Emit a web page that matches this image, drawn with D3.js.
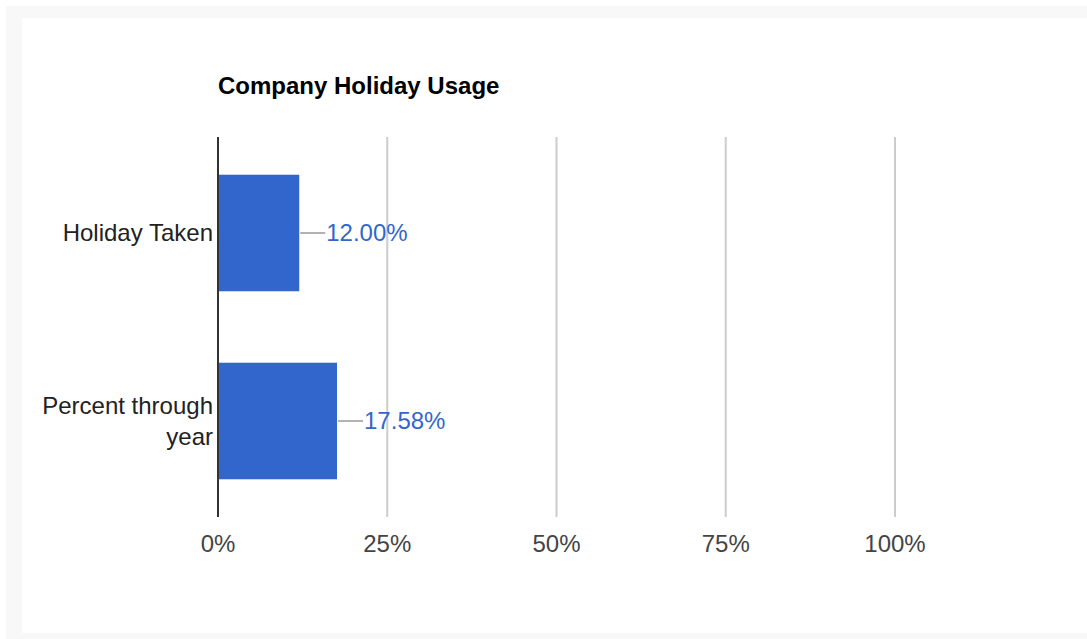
<!DOCTYPE html>
<html>
<head>
<meta charset="utf-8">
<script src="https://cdn.jsdelivr.net/npm/d3@7"></script>
<style>
  html, body { margin: 0; padding: 0; background: #ffffff; }
  svg { display: block; font-family: "Liberation Sans", Arial, sans-serif; }
</style>
</head>
<body>
<svg id="chart" width="1087" height="639"></svg>
<script>
// Chart data
const title = "Company Holiday Usage";
const categories = ["Holiday Taken", "Percent through year"];
const categoryLines = [["Holiday Taken"], ["Percent through", "year"]];
const values = [12.00, 17.58];
const valueLabels = ["12.00%", "17.58%"];
const tickValues = [0, 25, 50, 75, 100];
const tickLabels = ["0%", "25%", "50%", "75%", "100%"];

const svg = d3.select("#chart");
const W = 1087, H = 639;

// Page frame: light grey border around a white card
svg.append("rect").attr("x", 6).attr("y", 6).attr("width", W - 6).attr("height", H - 6).attr("fill", "#f8f8f8");
svg.append("rect").attr("x", 22).attr("y", 18).attr("width", W - 22).attr("height", 615).attr("fill", "#ffffff");

const plot = { left: 218, top: 137, bottom: 517 };

const x = d3.scaleLinear().domain([0, 100]).range([plot.left, plot.left + 677]);
const y = d3.scaleBand().domain(categories).range([plot.top + 2, plot.top + 378]).paddingInner(0.38).paddingOuter(0.19);

// Title
svg.append("text")
  .attr("x", plot.left).attr("y", 94)
  .attr("font-size", 24).attr("font-weight", "bold").attr("fill", "#000")
  .text(title);

// Vertical gridlines
svg.append("g").selectAll("line")
  .data(tickValues.filter(d => d > 0))
  .join("line")
  .attr("x1", d => x(d)).attr("x2", d => x(d))
  .attr("y1", plot.top).attr("y2", plot.bottom)
  .attr("stroke", "#cccccc").attr("stroke-width", 2);

// Bottom tick labels
svg.append("g").selectAll("text")
  .data(tickValues)
  .join("text")
  .attr("x", d => x(d)).attr("y", 552)
  .attr("text-anchor", "middle")
  .attr("font-size", 24).attr("fill", "#444")
  .text((d, i) => tickLabels[i]);

// Bars
svg.append("g").selectAll("rect")
  .data(values)
  .join("rect")
  .attr("x", x(0))
  .attr("y", (d, i) => y(categories[i]))
  .attr("width", d => x(d) - x(0))
  .attr("height", y.bandwidth())
  .attr("fill", "#3366cc");

// Leader lines and value labels
const ann = svg.append("g");
values.forEach((v, i) => {
  const cy = y(categories[i]) + y.bandwidth() / 2;
  ann.append("line")
    .attr("x1", x(v) + 1).attr("x2", x(v) + 26)
    .attr("y1", cy).attr("y2", cy)
    .attr("stroke", "#999").attr("stroke-width", 1.5);
  ann.append("text")
    .attr("x", x(v) + 27).attr("y", cy)
    .attr("dy", "0.35em")
    .attr("font-size", 24).attr("fill", "#3366cc")
    .text(valueLabels[i]);
});

// Category labels
const catG = svg.append("g");
categories.forEach((c, i) => {
  const lines = categoryLines[i];
  const cy = y(c) + y.bandwidth() / 2;
  const lh = 31;
  const t = catG.append("text")
    .attr("text-anchor", "end")
    .attr("font-size", 24).attr("fill", "#222");
  lines.forEach((ln, j) => {
    t.append("tspan")
      .attr("x", plot.left - 5)
      .attr("y", cy + (j - (lines.length - 1) / 2) * lh)
      .attr("dy", "0.35em")
      .text(ln);
  });
});

// Baseline axis
svg.append("line")
  .attr("x1", x(0)).attr("x2", x(0))
  .attr("y1", plot.top).attr("y2", plot.bottom)
  .attr("stroke", "#333").attr("stroke-width", 2);
</script>
</body>
</html>
